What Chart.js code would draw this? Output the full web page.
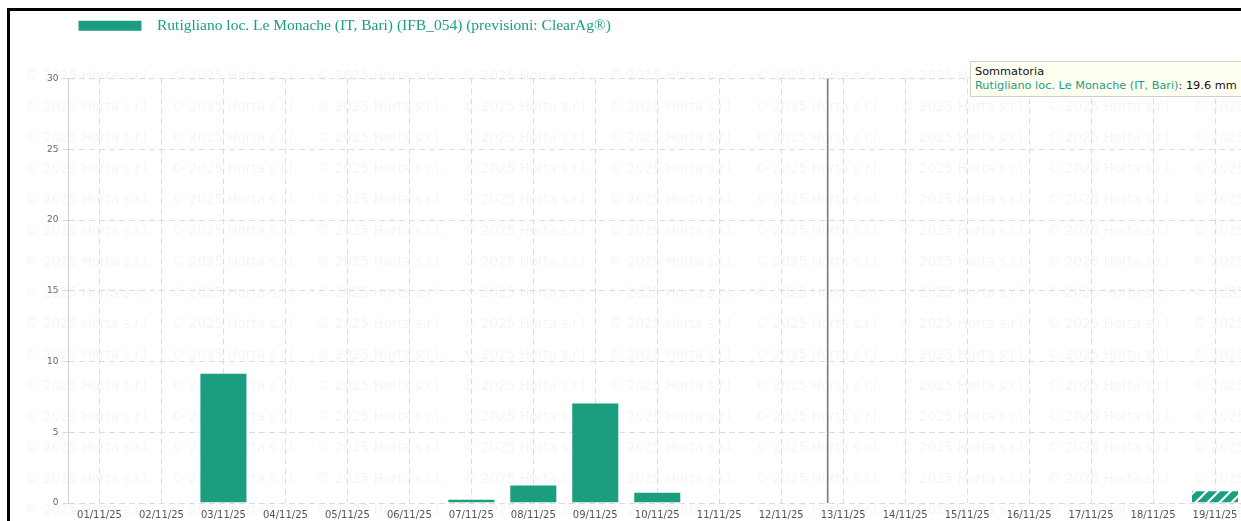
<!DOCTYPE html>
<html lang="it">
<head>
<meta charset="utf-8">
<title>Rutigliano loc. Le Monache - precipitazioni</title>
<script src="https://cdn.jsdelivr.net/npm/chart.js@4.4.1/dist/chart.umd.min.js"></script>
<style>
    html, body { margin: 0; padding: 0; background: #fff; overflow: hidden; width: 1241px; height: 521px; }
    #chart { position: absolute; left: 10px; top: 8px; }
    #frame {
        position: absolute; left: 7px; top: 8px; width: 1300px; height: 600px;
        border-left: 3px solid #000; border-top: 3px solid #000;
        pointer-events: none; z-index: 3;
    }
    #tip {
        position: absolute; left: 970px; top: 61px; width: 300px;
        padding: 3px 4px; background: #fffff2; border: 1px solid #cfcfcf;
        font: 11.3px/14px "DejaVu Sans", sans-serif; color: #111; white-space: nowrap; z-index: 2;
    }
    #tip .name { color: #1b9e80; }
</style>
</head>
<body>
<canvas id="chart" width="1236" height="514"></canvas>
<div id="frame"></div>
<div id="tip">
    <div>Sommatoria</div>
    <div><span class="name" id="tipName"></span>: <span id="tipValue"></span></div>
</div>
<script>
// dati
const days = ['01/11/25', '02/11/25', '03/11/25', '04/11/25', '05/11/25', '06/11/25', '07/11/25',
    '08/11/25', '09/11/25', '10/11/25', '11/11/25', '12/11/25', '13/11/25', '14/11/25',
    '15/11/25', '16/11/25', '17/11/25', '18/11/25', '19/11/25'];
const rainfall = [0, 0, 9.2, 0, 0, 0, 0.3, 1.3, 7.1, 0.8, 0, 0, 0, 0, 0, 0, 0, 0, 0.9];
const forecast = [false, false, false, false, false, false, false, false, false, false,
    false, false, false, false, false, false, false, false, true];
const yTickValues = [0, 5, 10, 15, 20, 25, 30];
const seriesName = 'Rutigliano loc. Le Monache (IT, Bari)';
const legendLabel = seriesName + ' (IFB_054) (previsioni: ClearAg®)';
const nowIndex = 11.75;   // posizione della linea "adesso" (tra 12/11 e 13/11)
const watermark = '© 2025 Horta s.r.l.';

const TEAL = '#1b9e80';

// tooltip fisso "Sommatoria"
const total = rainfall.reduce((acc, v) => acc + v, 0);
document.getElementById('tipName').textContent = seriesName;
document.getElementById('tipValue').textContent = total.toFixed(1) + ' mm';

const canvas = document.getElementById('chart');
const ctx = canvas.getContext('2d');

// barra di previsione tratteggiata
function hatchPattern(color) {
    const c = document.createElement('canvas');
    c.width = 12;
    c.height = 12;
    const g = c.getContext('2d');
    g.fillStyle = color;
    g.fillRect(0, 0, 12, 12);
    g.strokeStyle = '#ffffff';
    g.lineWidth = 2.2;
    g.beginPath();
    g.moveTo(0, 12); g.lineTo(12, 0);
    g.moveTo(-6, 6); g.lineTo(6, -6);
    g.moveTo(6, 18); g.lineTo(18, 6);
    g.stroke();
    return ctx.createPattern(c, 'repeat');
}
const hatch = hatchPattern(TEAL);

// filigrana ripetuta dietro al grafico
const watermarkPlugin = {
    id: 'watermark',
    beforeDraw(chart) {
        const c = chart.ctx;
        c.save();
        c.font = '13.5px "DejaVu Sans", sans-serif';
        c.fillStyle = 'rgba(0, 0, 0, 0.042)';
        c.textBaseline = 'middle';
        for (let y = 68; y < chart.height + 10; y += 31) {
            for (let x = 15; x < chart.width; x += 146) {
                c.fillText(watermark, x, y);
            }
        }
        c.restore();
    }
};

// linea verticale del momento attuale
const nowLinePlugin = {
    id: 'nowLine',
    afterDatasetsDraw(chart) {
        const xs = chart.scales.x;
        const area = chart.chartArea;
        const step = xs.getPixelForValue(1) - xs.getPixelForValue(0);
        const base = Math.floor(nowIndex);
        const x = xs.getPixelForValue(base) + (nowIndex - base) * step;
        const c = chart.ctx;
        c.save();
        c.strokeStyle = '#7a7a7a';
        c.lineWidth = 1.6;
        c.beginPath();
        c.moveTo(x, area.top);
        c.lineTo(x, area.bottom);
        c.stroke();
        c.restore();
    }
};

const chart = new Chart(ctx, {
    type: 'bar',
    data: {
        labels: days,
        datasets: [{
            label: legendLabel,
            data: rainfall,
            xAxisID: 'x',
            yAxisID: 'y',
            backgroundColor: forecast.map(f => f ? hatch : TEAL),
            borderColor: 'rgba(255, 255, 255, 0.45)',
            borderWidth: 1,
            categoryPercentage: 1,
            barPercentage: 0.775
        }]
    },
    options: {
        responsive: false,
        animation: false,
        devicePixelRatio: 1,
        layout: { padding: 0 },
        plugins: {
            tooltip: { enabled: false },
            legend: {
                position: 'top',
                align: 'start',
                fullSize: false,
                labels: {
                    boxWidth: 63,
                    boxHeight: 10,
                    padding: 10,
                    color: TEAL,
                    font: { family: '"Liberation Serif", serif', size: 15.5 },
                    generateLabels: function(chart) {
                        return chart.data.datasets.map((ds, i) => ({
                            text: '  ' + ds.label,
                            fillStyle: TEAL,
                            strokeStyle: TEAL,
                            lineWidth: 0,
                            fontColor: TEAL,
                            hidden: false,
                            datasetIndex: i
                        }));
                    }
                }
            }
        },
        scales: {
            x: {
                type: 'category',
                offset: true,
                grid: { offset: false, color: '#dcdcdc', drawTicks: false },
                border: { display: false, dash: [6, 4] },
                ticks: {
                    color: '#555',
                    padding: 6,
                    maxRotation: 0,
                    autoSkip: false,
                    font: { family: '"DejaVu Sans", sans-serif', size: 10 }
                },
                afterFit: function(scale) { scale.height = 19; }
            },
            xTop: {
                type: 'linear',
                position: 'top',
                display: true,
                ticks: { display: false },
                grid: { display: false, drawTicks: false },
                border: { display: false },
                afterFit: function(scale) { scale.height = 35; }
            },
            y: {
                min: 0,
                max: 30,
                afterBuildTicks: function(scale) {
                    scale.ticks = yTickValues.map(v => ({ value: v }));
                },
                grid: { color: '#dcdcdc', tickLength: 6 },
                border: { display: true, color: '#cfcfcf', dash: [6, 4] },
                ticks: {
                    color: '#666',
                    padding: 4,
                    font: { family: '"DejaVu Sans", sans-serif', size: 9 }
                },
                afterFit: function(scale) { scale.width = 58.5; }
            }
        }
    },
    plugins: [watermarkPlugin, nowLinePlugin]
});
</script>
</body>
</html>
